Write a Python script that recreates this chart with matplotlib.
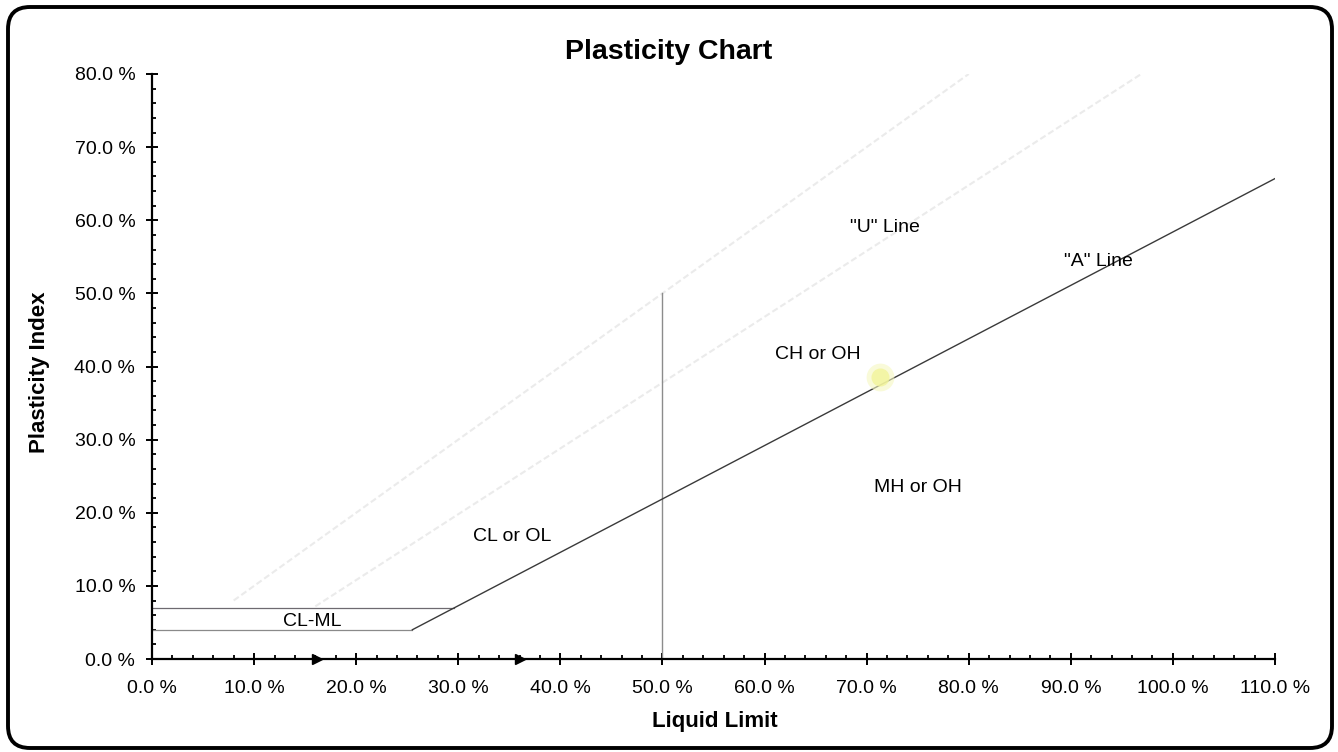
import matplotlib
matplotlib.use("Agg")
import matplotlib.pyplot as plt
from matplotlib.patches import FancyBboxPatch
from matplotlib.ticker import MultipleLocator, FuncFormatter

plt.rcParams['font.family'] = ['Liberation Sans', 'DejaVu Sans']

# ---- data ----
a_line_ll = [25.5, 110.0]
a_line_pi = [4.0, 65.7]
u_line_ll = [16.0, 96.9]
u_line_pi = [7.2, 80.0]
limit_ll = [8.0, 80.0]
limit_pi = [8.0, 80.0]
clml_upper_ll = [0.0, 29.6]
clml_upper_pi = [7.0, 7.0]
clml_lower_ll = [0.0, 25.5]
clml_lower_pi = [4.0, 4.0]
ll50_ll = [50.0, 50.0]
ll50_pi = [0.0, 50.0]
arrow_ll = [16.2, 36.0]
arrow_pi = [0.0, 0.0]
sample_ll = [71.3]
sample_pi = [38.6]

zone_labels = ["CL-ML", "CL or OL", "CH or OH", "MH or OH", '"U" Line', '"A" Line']
zone_ll = [15.7, 35.3, 65.2, 75.0, 71.8, 92.7]
zone_pi = [5.1, 16.8, 41.6, 23.5, 59.0, 54.3]

W, H = 1338, 752
fig = plt.figure(figsize=(W / 100, H / 100), dpi=100)
ax = fig.add_axes([152 / W, 1 - 659 / H, (1275 - 152) / W, (659 - 74) / H])

ax.plot(limit_ll, limit_pi, color='#ebebeb', lw=1.5, ls=(0, (3, 1.5)))
ax.plot(u_line_ll, u_line_pi, color='#ebebeb', lw=1.5, ls=(0, (3, 1.5)))
ax.plot(clml_upper_ll, clml_upper_pi, color='#6e6a70', lw=0.9)
ax.plot(clml_lower_ll, clml_lower_pi, color='#8a8a8a', lw=0.9)
ax.plot(ll50_ll, ll50_pi, color='#8c8c8c', lw=1.0)
ax.plot(a_line_ll, a_line_pi, color='#3a3a3a', lw=1.0)
ax.plot(sample_ll, sample_pi, 'o', color='#f6f8c0', ms=20, mec='none', alpha=0.6)
ax.plot(sample_ll, sample_pi, 'o', color='#f2f49a', ms=13, mec='none', alpha=0.8)
ax.plot(arrow_ll, arrow_pi, '>', color='black', ms=7, clip_on=False, zorder=5)

for t, x, y in zip(zone_labels, zone_ll, zone_pi):
    ax.text(x, y, t, fontsize=14, ha='center', va='center', color='black')

ax.set_xlim(0, 110)
ax.set_ylim(0, 80)
for s in ['top', 'right']:
    ax.spines[s].set_visible(False)
for s in ['left', 'bottom']:
    ax.spines[s].set_linewidth(1.6)
    ax.spines[s].set_color('black')

ax.xaxis.set_major_locator(MultipleLocator(10))
ax.xaxis.set_minor_locator(MultipleLocator(2))
ax.yaxis.set_major_locator(MultipleLocator(10))
ax.yaxis.set_minor_locator(MultipleLocator(2))
fmt = FuncFormatter(lambda v, p: f"{v:.1f} %")
ax.xaxis.set_major_formatter(fmt)
ax.yaxis.set_major_formatter(fmt)
ax.tick_params(axis='both', which='major', direction='inout', length=8, width=1.4,
               labelsize=14, colors='black')
ax.tick_params(axis='both', which='minor', direction='in', length=3, width=1.3)
ax.tick_params(axis='x', which='major', pad=11)
ax.tick_params(axis='y', which='major', pad=8)

fig.text(669 / W, 1 - 52 / H, "Plasticity Chart", fontsize=20.5, fontweight='bold',
         ha='center', va='center')
fig.text(715 / W, 1 - 722 / H, "Liquid Limit", fontsize=16, fontweight='bold',
         ha='center', va='center')
fig.text(40 / W, 1 - 372 / H, "Plasticity Index", fontsize=16, fontweight='bold',
         ha='center', va='center', rotation=90)

frame = FancyBboxPatch((0.08, 0.04), 13.24, 7.41,
                       boxstyle="round,pad=0,rounding_size=0.22",
                       transform=fig.dpi_scale_trans, fill=False,
                       ec='black', lw=2.8)
fig.patches.append(frame)

fig.savefig("out.png", dpi=100, facecolor='white')
